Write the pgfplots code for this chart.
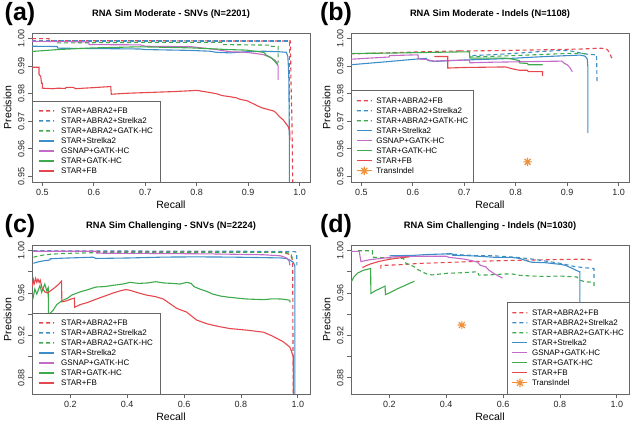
\documentclass[border=0pt]{standalone}
\usepackage{fontspec}
\setmainfont{Liberation Sans}
\usepackage{pgfplots}
\pgfplotsset{compat=1.18}

\definecolor{cred}{HTML}{E6474C}
\definecolor{cblue}{HTML}{3D8DC8}
\definecolor{cgreen}{HTML}{3DAA4B}
\definecolor{cpurple}{HTML}{C46AC8}
\definecolor{corange}{HTML}{F0913C}
\definecolor{cframe}{HTML}{666666}

\pgfdeclareplotmark{rast}{%
  \pgfpathmoveto{\pgfqpoint{-\pgfplotmarksize}{0pt}}%
  \pgfpathlineto{\pgfqpoint{\pgfplotmarksize}{0pt}}%
  \pgfpathmoveto{\pgfqpoint{0pt}{-\pgfplotmarksize}}%
  \pgfpathlineto{\pgfqpoint{0pt}{\pgfplotmarksize}}%
  \pgfpathmoveto{\pgfqpoint{-0.7071\pgfplotmarksize}{-0.7071\pgfplotmarksize}}%
  \pgfpathlineto{\pgfqpoint{0.7071\pgfplotmarksize}{0.7071\pgfplotmarksize}}%
  \pgfpathmoveto{\pgfqpoint{-0.7071\pgfplotmarksize}{0.7071\pgfplotmarksize}}%
  \pgfpathlineto{\pgfqpoint{0.7071\pgfplotmarksize}{-0.7071\pgfplotmarksize}}%
  \pgfusepathqstroke}

\pgfplotsset{
  rpanel/.style={
    scale only axis, width=278pt, height=149pt,
    axis line style={cframe, line width=0.8pt},
    tick align=outside, tick pos=left, major tick length=4pt,
    tick style={cframe, line width=0.8pt},
    tick label style={font=\fontsize{9}{10}\selectfont, text=black!85},
    yticklabel style={rotate=90, anchor=south},
    xticklabel style={anchor=north},
    title style={at={(axis description cs:0.5,1.087)}, anchor=center, font=\bfseries\fontsize{9.3}{10}\selectfont},
    xlabel style={at={(axis description cs:0.5,-0.154)}, anchor=center, font=\fontsize{10.5}{12}\selectfont},
    ylabel style={at={(axis description cs:-0.088,0.5)}, anchor=center, font=\fontsize{10.5}{12}\selectfont},
    xlabel={Recall}, ylabel={Precision},
    legend cell align=left,
    legend style={draw=cframe, fill=white, font=\fontsize{8}{9}\selectfont,
      inner xsep=7pt, inner ysep=6pt, row sep=1pt, column sep=7pt,
      nodes={inner sep=0pt, text height=6.6pt, text depth=2.4pt}},
  },
  narrowleg/.style={legend style={inner xsep=5pt, column sep=4pt}},
  sRD/.style={color=cred, draw=cred, line width=1.1pt, dash pattern=on 4pt off 3pt,
    legend image code/.code={\fill[fill=cred, draw=none] (0pt,-0.25pt) rectangle (4pt,1.05pt) (7pt,-0.25pt) rectangle (11pt,1.05pt) (14pt,-0.25pt) rectangle (15pt,1.05pt);}},
  sBD/.style={color=cblue, draw=cblue, line width=1.1pt, dash pattern=on 4pt off 3pt,
    legend image code/.code={\fill[fill=cblue, draw=none] (0pt,-0.25pt) rectangle (4pt,1.05pt) (7pt,-0.25pt) rectangle (11pt,1.05pt) (14pt,-0.25pt) rectangle (15pt,1.05pt);}},
  sGD/.style={color=cgreen, draw=cgreen, line width=1.1pt, dash pattern=on 4pt off 3pt,
    legend image code/.code={\fill[fill=cgreen, draw=none] (0pt,-0.25pt) rectangle (4pt,1.05pt) (7pt,-0.25pt) rectangle (11pt,1.05pt) (14pt,-0.25pt) rectangle (15pt,1.05pt);}},
  sB/.style={color=cblue, draw=cblue, line width=1.1pt, solid,
    legend image code/.code={\fill[fill=cblue, draw=none] (0pt,-0.25pt) rectangle (15pt,1.05pt);}},
  sP/.style={color=cpurple, draw=cpurple, line width=1.1pt, solid,
    legend image code/.code={\fill[fill=cpurple, draw=none] (0pt,-0.25pt) rectangle (15pt,1.05pt);}},
  sG/.style={color=cgreen, draw=cgreen, line width=1.1pt, solid,
    legend image code/.code={\fill[fill=cgreen, draw=none] (0pt,-0.25pt) rectangle (15pt,1.05pt);}},
  sR/.style={color=cred, draw=cred, line width=1.1pt, solid,
    legend image code/.code={\fill[fill=cred, draw=none] (0pt,-0.25pt) rectangle (15pt,1.05pt);}},
  rstar/.style={only marks, mark=rast, mark size=4.2pt, color=corange, draw=corange, line width=1.2pt,
    legend image code/.code={\path (0pt,0.4pt) -- (15pt,0.4pt); \draw[##1] plot coordinates {(7.5pt,0.4pt)};}},
}

\begin{document}
\begin{tikzpicture}
\path[use as bounding box] (0pt,0pt) rectangle (633pt,426pt);

% ---------------- (a) ----------------
\begin{axis}[rpanel, at={(32pt,244pt)}, anchor=south west,
  xmin=0.48, xmax=1.02, ymin=0.948, ymax=1.002,
  xtick={0.5,0.6,0.7,0.8,0.9,1.0}, xticklabels={0.5,0.6,0.7,0.8,0.9,1.0},
  ytick={0.95,0.96,0.97,0.98,0.99,1.00}, yticklabels={0.95,0.96,0.97,0.98,0.99,1.00},
  title={RNA Sim Moderate - SNVs (N=2201)},
  legend style={at={(0,0)}, anchor=south west}]
\addplot[sRD] coordinates {(0.48,0.99995) (0.513,0.99995) (0.513,0.9992) (0.70,0.9992) (0.85,0.9991) (0.982,0.9991) (0.983,0.985) (0.985,0.97) (0.987,0.94)};
\addlegendentry{STAR+ABRA2+FB}
\addplot[sBD] coordinates {(0.48,0.9991) (0.981,0.9991) (0.981,0.94)};
\addlegendentry{STAR+ABRA2+Strelka2}
\addplot[sGD] coordinates {(0.529,0.9984) (0.70,0.9986) (0.851,0.9986) (0.851,0.9978) (0.942,0.9976) (0.942,0.9972) (0.958,0.9971) (0.958,0.9912)};
\addlegendentry{STAR+ABRA2+GATK-HC}
\addplot[sB] coordinates {(0.48,0.9972) (0.529,0.9971) (0.530,0.9965) (0.69,0.9962) (0.70,0.9960) (0.786,0.9957) (0.825,0.9954) (0.838,0.9950) (0.864,0.9948) (0.896,0.9952) (0.93,0.9954) (0.96,0.9952) (0.974,0.9950) (0.977,0.9935) (0.978,0.990) (0.979,0.985) (0.980,0.96) (0.980,0.94)};
\addlegendentry{STAR+Strelka2}
\addplot[sP] coordinates {(0.48,0.9990) (0.53,0.9989) (0.59,0.9988) (0.591,0.9978) (0.69,0.9977) (0.70,0.9972) (0.79,0.9970) (0.825,0.9963) (0.838,0.9960) (0.864,0.9952) (0.896,0.9950) (0.929,0.9942) (0.942,0.9932) (0.952,0.9922) (0.956,0.9912) (0.958,0.9900) (0.958,0.9850)};
\addlegendentry{GSNAP+GATK-HC}
\addplot[sG] coordinates {(0.48,0.9953) (0.53,0.9960) (0.60,0.9966) (0.69,0.9970) (0.79,0.9966) (0.838,0.9962) (0.86,0.9960) (0.896,0.9958) (0.93,0.9950) (0.935,0.9940) (0.945,0.9930) (0.95,0.9920) (0.955,0.9910) (0.957,0.9904)};
\addlegendentry{STAR+GATK-HC}
\addplot[sR] coordinates {(0.4805,0.9896) (0.4936,0.9896) (0.4936,0.9870) (0.497,0.9862) (0.4985,0.9838) (0.5001,0.9838) (0.5001,0.9820) (0.52,0.9818) (0.53,0.9820) (0.545,0.9819) (0.546,0.9823) (0.56,0.9823) (0.565,0.9818) (0.58,0.9820) (0.60,0.9822) (0.633,0.9826) (0.634,0.9798) (0.65,0.9800) (0.67,0.9802) (0.70,0.9804) (0.73,0.9806) (0.76,0.9808) (0.80,0.9812) (0.81,0.9809) (0.82,0.9806) (0.838,0.9800) (0.85,0.9793) (0.865,0.9789) (0.877,0.9785) (0.885,0.9779) (0.897,0.9775) (0.905,0.9768) (0.916,0.9758) (0.925,0.9750) (0.93,0.9747) (0.94,0.9742) (0.95,0.9737) (0.955,0.9729) (0.96,0.9718) (0.968,0.9705) (0.974,0.9690) (0.978,0.9680) (0.981,0.9660) (0.981,0.9632)};
\addlegendentry{STAR+FB}
\end{axis}

% ---------------- (b) ----------------
\begin{axis}[rpanel, narrowleg, at={(351pt,244pt)}, anchor=south west,
  xmin=0.48, xmax=1.02, ymin=0.948, ymax=1.002,
  xtick={0.5,0.6,0.7,0.8,0.9,1.0}, xticklabels={0.5,0.6,0.7,0.8,0.9,1.0},
  ytick={0.95,0.96,0.97,0.98,0.99,1.00}, yticklabels={0.95,0.96,0.97,0.98,0.99,1.00},
  title={RNA Sim Moderate - Indels (N=1108)},
  legend style={at={(0,0)}, anchor=south west}]
\addplot[sRD] coordinates {(0.48,0.9944) (0.55,0.9948) (0.62,0.9952) (0.690,0.9955) (0.690,0.9962) (0.691,0.9955) (0.76,0.9956) (0.85,0.9959) (0.93,0.9962) (0.96,0.9965) (0.975,0.9964) (0.980,0.9955) (0.985,0.9935) (0.987,0.9928)};
\addlegendentry{STAR+ABRA2+FB}
\addplot[sBD] coordinates {(0.716,0.9938) (0.78,0.9944) (0.85,0.9953) (0.89,0.9957) (0.904,0.9956) (0.925,0.9948) (0.943,0.9942) (0.957,0.9941) (0.958,0.9843)};
\addlegendentry{STAR+ABRA2+Strelka2}
\addplot[sGD] coordinates {(0.71,0.9933) (0.78,0.9937) (0.85,0.9942) (0.90,0.9946) (0.93,0.9946) (0.94,0.9943)};
\addlegendentry{STAR+ABRA2+GATK-HC}
\addplot[sB] coordinates {(0.48,0.9905) (0.55,0.9916) (0.61,0.9926) (0.626,0.9928) (0.63,0.9920) (0.642,0.9917) (0.70,0.9922) (0.78,0.9927) (0.85,0.9934) (0.90,0.9938) (0.925,0.9940) (0.935,0.9936) (0.939,0.9925) (0.940,0.9900) (0.940,0.9658)};
\addlegendentry{STAR+Strelka2}
\addplot[sP] coordinates {(0.48,0.9925) (0.554,0.9933) (0.555,0.9938) (0.61,0.9941) (0.611,0.9926) (0.626,0.9924) (0.642,0.9918) (0.66,0.9920) (0.71,0.9922) (0.711,0.9912) (0.75,0.9914) (0.85,0.9917) (0.89,0.9918) (0.894,0.9910) (0.90,0.9905) (0.905,0.9895) (0.908,0.9885) (0.91,0.9880)};
\addlegendentry{GSNAP+GATK-HC}
\addplot[sG] coordinates {(0.48,0.9946) (0.55,0.9947) (0.61,0.9949) (0.71,0.9952) (0.711,0.9929) (0.78,0.9929) (0.794,0.9925) (0.807,0.9920) (0.808,0.9911) (0.823,0.9910) (0.824,0.9905) (0.852,0.9905)};
\addlegendentry{STAR+GATK-HC}
\addplot[sR] coordinates {(0.642,0.9935) (0.668,0.9935) (0.668,0.9893) (0.70,0.9895) (0.78,0.9897) (0.794,0.9890) (0.807,0.9885) (0.823,0.9885) (0.824,0.9880) (0.852,0.9880) (0.852,0.9865)};
\addlegendentry{STAR+FB}
\addplot[rstar] coordinates {(0.823,0.9553)};
\addlegendentry{TransIndel}
\end{axis}

% ---------------- (c) ----------------
\begin{axis}[rpanel, at={(32pt,32pt)}, anchor=south west,
  xmin=0.065, xmax=1.043, ymin=0.8648, ymax=1.0052,
  xtick={0.2,0.4,0.6,0.8,1.0}, xticklabels={0.2,0.4,0.6,0.8,1.0},
  ytick={0.88,0.90,0.92,0.94,0.96,0.98,1.00}, yticklabels={0.88,,0.92,,0.96,,1.00},
  title={RNA Sim Challenging - SNVs (N=2224)},
  legend style={at={(0,0)}, anchor=south west}]
\addplot[sRD] coordinates {(0.07,0.9995) (0.29,0.9992) (0.7,0.9988) (0.9,0.9986) (0.95,0.9980) (0.975,0.9960) (0.982,0.9900) (0.984,0.86)};
\addlegendentry{STAR+ABRA2+FB}
\addplot[sBD] coordinates {(0.07,0.9998) (0.29,0.9996) (0.8,0.9993) (0.99,0.9990) (0.996,0.9980) (0.997,0.9860)};
\addlegendentry{STAR+ABRA2+Strelka2}
\addplot[sGD] coordinates {(0.07,0.9937) (0.10,0.9955) (0.13,0.9965) (0.175,0.9972) (0.29,0.9980) (0.5,0.9983) (0.75,0.9984) (0.95,0.9982) (0.975,0.9975) (0.982,0.9920)};
\addlegendentry{STAR+ABRA2+GATK-HC}
\addplot[sB] coordinates {(0.07,0.9880) (0.09,0.9895) (0.11,0.9905) (0.128,0.9910) (0.129,0.9922) (0.175,0.9928) (0.28,0.9937) (0.29,0.9925) (0.41,0.9930) (0.53,0.9938) (0.64,0.9940) (0.76,0.9938) (0.88,0.9933) (0.94,0.9930) (0.96,0.9925) (0.972,0.9910) (0.984,0.9890) (0.99,0.9850) (0.99,0.86)};
\addlegendentry{STAR+Strelka2}
\addplot[sP] coordinates {(0.07,0.9993) (0.29,0.9993) (0.292,0.9975) (0.5,0.9972) (0.7,0.9968) (0.88,0.9960) (0.94,0.9950) (0.96,0.9930) (0.97,0.9900) (0.972,0.9860)};
\addlegendentry{GSNAP+GATK-HC}
\addplot[sG] coordinates {(0.068,0.9543) (0.075,0.9637) (0.082,0.9590) (0.093,0.9669) (0.099,0.9606) (0.11,0.9684) (0.117,0.9620) (0.122,0.9650) (0.123,0.9392) (0.14,0.9440) (0.152,0.9490) (0.17,0.9527) (0.19,0.9550) (0.205,0.9580) (0.234,0.9610) (0.26,0.9630) (0.29,0.9656) (0.32,0.9660) (0.35,0.9672) (0.385,0.9684) (0.41,0.9700) (0.44,0.9690) (0.47,0.9694) (0.50,0.9706) (0.53,0.9694) (0.56,0.9690) (0.585,0.9684) (0.61,0.9700) (0.625,0.9690) (0.635,0.9660) (0.655,0.9637) (0.68,0.9615) (0.70,0.9590) (0.73,0.9570) (0.76,0.9559) (0.82,0.9543) (0.88,0.9537) (0.91,0.9545) (0.94,0.9543) (0.96,0.9537) (0.972,0.9530) (0.973,0.9510)};
\addlegendentry{STAR+GATK-HC}
\addplot[sR] coordinates {(0.066,0.9660) (0.070,0.9725) (0.073,0.9690) (0.078,0.9738) (0.082,0.9700) (0.086,0.9730) (0.090,0.9700) (0.094,0.9722) (0.100,0.9650) (0.110,0.9610) (0.120,0.9600) (0.130,0.9620) (0.145,0.9650) (0.158,0.9680) (0.169,0.9712) (0.170,0.9516) (0.185,0.9525) (0.200,0.9540) (0.214,0.9552) (0.215,0.9465) (0.234,0.9490) (0.26,0.9510) (0.292,0.9543) (0.32,0.9570) (0.351,0.9600) (0.375,0.9620) (0.395,0.9632) (0.41,0.9625) (0.44,0.9600) (0.468,0.9580) (0.50,0.9565) (0.527,0.9543) (0.55,0.9500) (0.574,0.9455) (0.609,0.9420) (0.644,0.9345) (0.68,0.9310) (0.72,0.9285) (0.76,0.9265) (0.82,0.9250) (0.88,0.9230) (0.91,0.9195) (0.949,0.9140) (0.972,0.9090) (0.978,0.9050) (0.984,0.9000) (0.985,0.86)};
\addlegendentry{STAR+FB}
\end{axis}

% ---------------- (d) ----------------
\begin{axis}[rpanel, narrowleg, at={(351pt,32pt)}, anchor=south west,
  xmin=0.065, xmax=1.043, ymin=0.8648, ymax=1.0052,
  xtick={0.2,0.4,0.6,0.8,1.0}, xticklabels={0.2,0.4,0.6,0.8,1.0},
  ytick={0.88,0.90,0.92,0.94,0.96,0.98,1.00}, yticklabels={0.88,,0.92,,0.96,,1.00},
  title={RNA Sim Challenging - Indels (N=1030)},
  legend style={at={(1,0)}, anchor=south east}]
\addplot[sRD] coordinates {(0.17,0.9830) (0.17,0.9860) (0.20,0.9862) (0.25,0.9868) (0.30,0.9878) (0.40,0.9887) (0.50,0.9897) (0.60,0.9905) (0.70,0.9910) (0.80,0.9915) (0.87,0.9918) (0.90,0.9916) (0.92,0.9905)};
\addlegendentry{STAR+ABRA2+FB}
\addplot[sBD] coordinates {(0.40,0.9968) (0.45,0.9960) (0.52,0.9950) (0.55,0.9952) (0.60,0.9945) (0.65,0.9935) (0.70,0.9920) (0.75,0.9900) (0.80,0.9880) (0.85,0.9850) (0.88,0.9840) (0.90,0.9835) (0.92,0.9830) (0.92,0.9735)};
\addlegendentry{STAR+ABRA2+Strelka2}
\addplot[sGD] coordinates {(0.09,0.9998) (0.14,0.9998) (0.141,0.9937) (0.20,0.9930) (0.25,0.9925) (0.258,0.9880) (0.285,0.9850) (0.30,0.9820) (0.33,0.9780) (0.35,0.9770) (0.40,0.9785) (0.45,0.9790) (0.51,0.9800) (0.515,0.9768) (0.55,0.9770) (0.60,0.9778) (0.63,0.9780) (0.66,0.9766) (0.70,0.9760) (0.75,0.9755) (0.80,0.9760) (0.86,0.9750) (0.87,0.9720) (0.89,0.9705) (0.92,0.9700) (0.92,0.9660)};
\addlegendentry{STAR+ABRA2+GATK-HC}
\addplot[sB] coordinates {(0.20,0.9950) (0.29,0.9955) (0.33,0.9962) (0.42,0.9970) (0.423,0.9955) (0.49,0.9950) (0.55,0.9940) (0.575,0.9935) (0.63,0.9935) (0.66,0.9925) (0.68,0.9905) (0.70,0.9890) (0.75,0.9885) (0.80,0.9870) (0.82,0.9860) (0.845,0.9830) (0.868,0.9800) (0.870,0.9800) (0.870,0.9496)};
\addlegendentry{STAR+Strelka2}
\addplot[sP] coordinates {(0.065,0.9992) (0.094,0.9992) (0.100,0.9895) (0.106,0.9900) (0.135,0.9915) (0.17,0.9925) (0.20,0.9935) (0.223,0.9942) (0.30,0.9946) (0.40,0.9946) (0.41,0.9935) (0.43,0.9930) (0.46,0.9920) (0.49,0.9905) (0.51,0.9890) (0.52,0.9860) (0.54,0.9845) (0.55,0.9815) (0.57,0.9780) (0.58,0.9765) (0.598,0.9740)};
\addlegendentry{GSNAP+GATK-HC}
\addplot[sG] coordinates {(0.065,0.9700) (0.075,0.9750) (0.09,0.9790) (0.11,0.9815) (0.134,0.9830) (0.135,0.9595) (0.15,0.9620) (0.17,0.9645) (0.185,0.9665) (0.186,0.9585) (0.20,0.9600) (0.225,0.9635) (0.25,0.9665) (0.27,0.9690) (0.288,0.9710)};
\addlegendentry{STAR+GATK-HC}
\addplot[sR] coordinates {(0.105,0.9840) (0.13,0.9870) (0.16,0.9895) (0.19,0.9912) (0.22,0.9925) (0.25,0.9935) (0.27,0.9940)};
\addlegendentry{STAR+FB}
\addplot[rstar] coordinates {(0.455,0.9298)};
\addlegendentry{TransIndel}
\end{axis}

\node[font=\bfseries\fontsize{25}{28}\selectfont, anchor=center] at (20pt,412pt) {(a)};
\node[font=\bfseries\fontsize{25}{28}\selectfont, anchor=center] at (336pt,412pt) {(b)};
\node[font=\bfseries\fontsize{25}{28}\selectfont, anchor=center] at (20pt,200pt) {(c)};
\node[font=\bfseries\fontsize{25}{28}\selectfont, anchor=center] at (336pt,200pt) {(d)};
\end{tikzpicture}
\end{document}
